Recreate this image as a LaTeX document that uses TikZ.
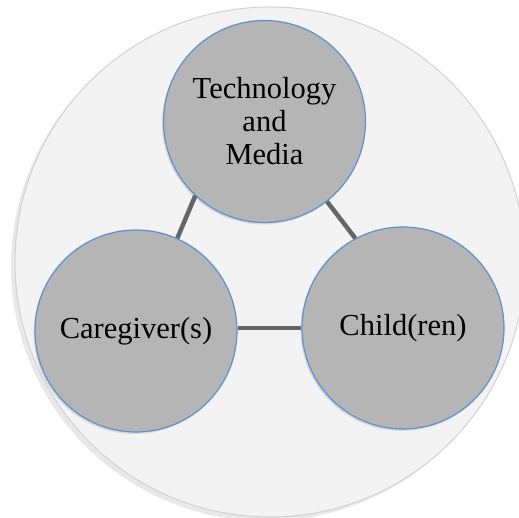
\documentclass[tikz,border=0pt]{standalone}
\usepackage{fontspec}
\setmainfont{Liberation Serif}
\usetikzlibrary{shadows}

\definecolor{ringblue}{RGB}{94,144,206}
\definecolor{discgray}{RGB}{181,181,181}
\definecolor{backgray}{RGB}{243,243,243}
\definecolor{linkgray}{RGB}{102,102,102}

\begin{document}
\begin{tikzpicture}[x=1pt,y=1pt]
  \tikzstyle{disc}=[circle,draw=ringblue,line width=1.2pt,fill=discgray,minimum size=202pt,inner sep=0pt,align=center,
    font=\fontsize{30.5}{33}\selectfont,drop shadow={opacity=0.22,shadow xshift=-1.5pt,shadow yshift=-2pt}]
  \tikzstyle{link}=[draw=linkgray,line width=4.5pt]
  \useasboundingbox (0,0) rectangle (519,518);
  \node[circle,draw=black!18,line width=1pt,fill=backgray,minimum size=510pt,inner sep=0pt,
    drop shadow={opacity=0.18,shadow xshift=-4pt,shadow yshift=-4pt}] (ring) at (270,256) {};
  \node[disc] (tech) at (264.5,396.5) {Technology\\and\\Media};
  \node[disc] (care) at (136,187) {Caregiver(s)};
  \node[disc] (child) at (403,190) {Child(ren)};
  \draw[link] (tech.227) -- (care.66);
  \draw[link] (tech.308) -- (child.118);
  \draw[link] (care.east |- child.west) -- (child.west);
\end{tikzpicture}
\end{document}
